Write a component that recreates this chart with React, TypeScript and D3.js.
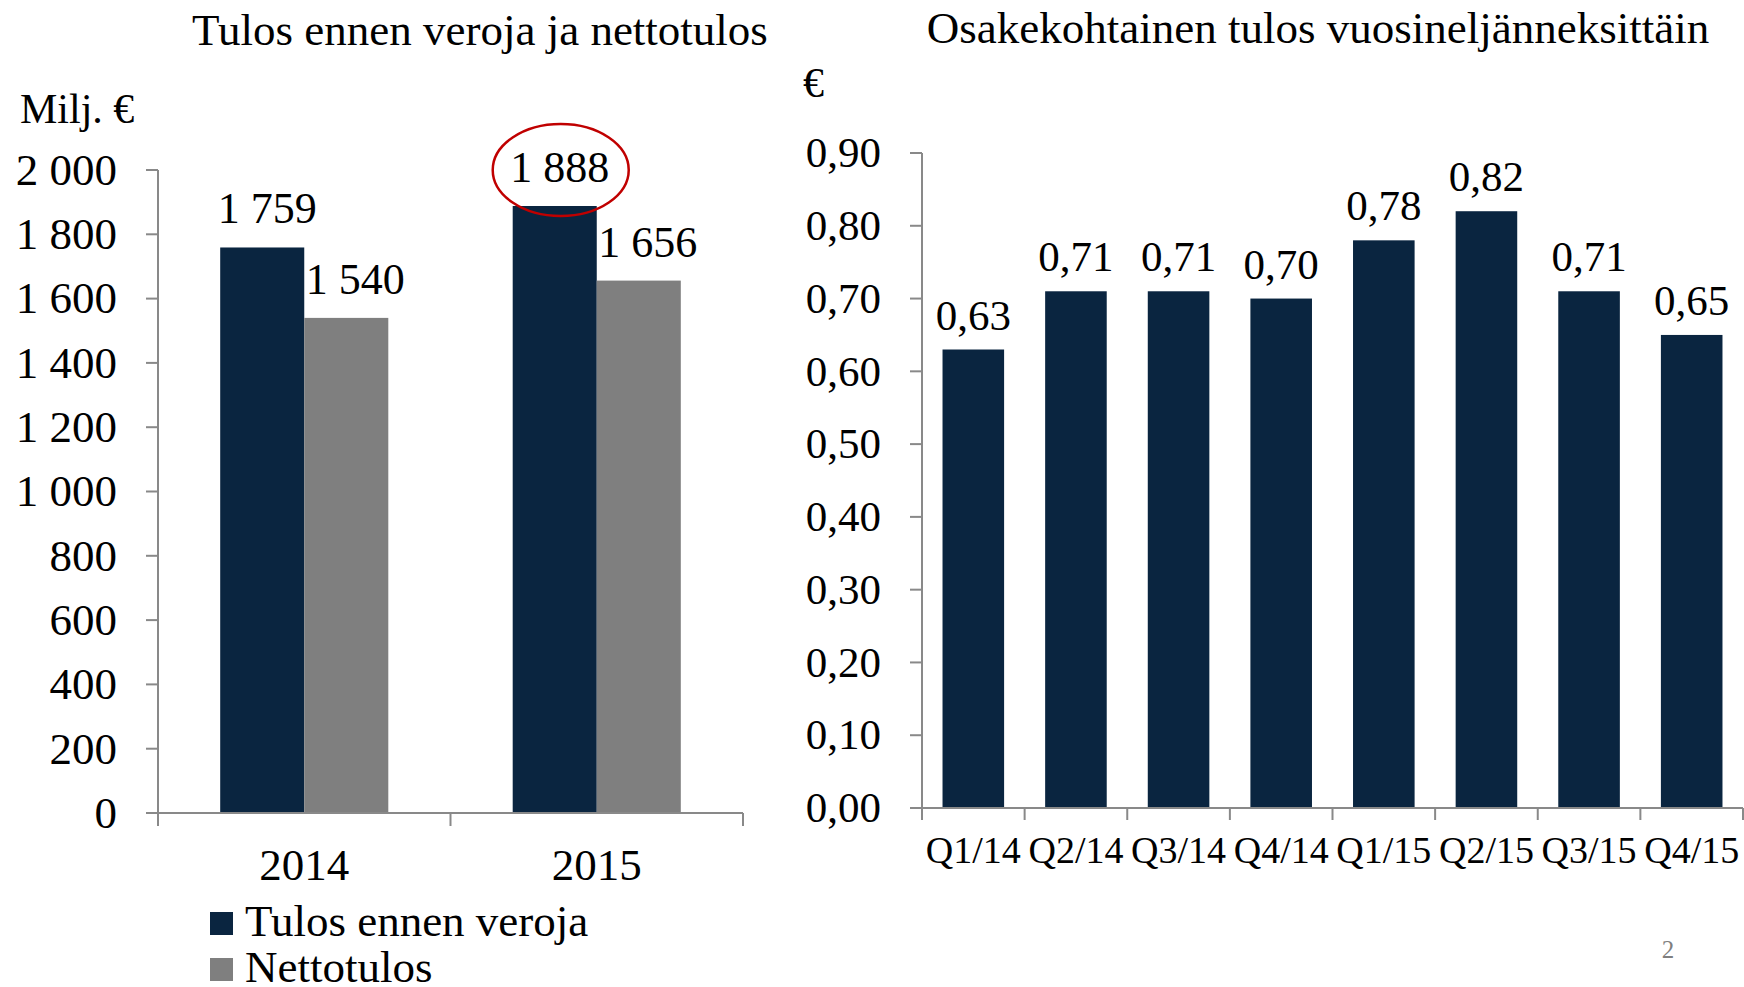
import React, { useEffect, useRef } from "react";
import * as d3 from "d3";

// left chart: profit before taxes vs net profit (M€)
const years = ["2014", "2015"];
const seriesNames = ["Tulos ennen veroja", "Nettotulos"];
const pretaxProfit = [1759, 1888];
const netProfit = [1540, 1656];
const leftTicks = [0, 200, 400, 600, 800, 1000, 1200, 1400, 1600, 1800, 2000];

// right chart: earnings per share by quarter (€)
const quarters = ["Q1/14", "Q2/14", "Q3/14", "Q4/14", "Q1/15", "Q2/15", "Q3/15", "Q4/15"];
const eps = [0.63, 0.71, 0.71, 0.7, 0.78, 0.82, 0.71, 0.65];
const rightTicks = [0, 0.1, 0.2, 0.3, 0.4, 0.5, 0.6, 0.7, 0.8, 0.9];

const NAVY = "#0a2540";
const GREY = "#7f7f7f";
const AXIS = "#898989";
const FONT = "'Liberation Serif', 'Times New Roman', serif";

const fi = d3.formatLocale({ decimal: ",", thousands: " ", grouping: [3], currency: ["", "€"] });
const fmtInt = fi.format(",d");
const fmtEps = fi.format(".2f");

export default function App() {
  const ref = useRef<SVGSVGElement>(null);

  useEffect(() => {
    const svg = d3.select(ref.current);
    svg.selectAll("*").remove();
    svg.style("font-family", FONT);

    // ---------- left chart ----------
    const g = svg.append("g");
    const x0 = d3.scaleBand().domain(years).range([158, 743]);
    const x1 = d3.scaleBand().domain(seriesNames).range([0, x0.bandwidth()]).paddingOuter(0.74);
    const y = d3.scaleLinear().domain([0, 2000]).range([813, 170]);
    const colors = [NAVY, GREY];
    const rows = years.map((yr, i) => ({ year: yr, vals: [pretaxProfit[i], netProfit[i]] }));

    g.append("text").attr("x", 480).attr("y", 45).attr("text-anchor", "middle")
      .attr("font-size", 45).text("Tulos ennen veroja ja nettotulos");
    g.append("text").attr("x", 20).attr("y", 123).attr("font-size", 42).text("Milj. €");

    // y axis
    g.append("line").attr("x1", 158).attr("x2", 158).attr("y1", y(2000)).attr("y2", y(0))
      .attr("stroke", AXIS).attr("stroke-width", 2);
    const yt = g.selectAll(".yt").data(leftTicks).join("g").attr("class", "yt")
      .attr("transform", d => `translate(0,${y(d)})`);
    yt.append("line").attr("x1", 146).attr("x2", 158).attr("stroke", AXIS).attr("stroke-width", 2);
    yt.append("text").attr("x", 117).attr("dy", "0.33em").attr("text-anchor", "end")
      .attr("font-size", 45).text(d => fmtInt(d));

    // bars
    const grp = g.selectAll(".grp").data(rows).join("g").attr("class", "grp")
      .attr("transform", d => `translate(${x0(d.year)},0)`);
    grp.selectAll("rect").data(d => d.vals).join("rect")
      .attr("x", (d, i) => x1(seriesNames[i])!)
      .attr("width", x1.bandwidth())
      .attr("y", d => y(d))
      .attr("height", d => y(0) - y(d))
      .attr("fill", (d, i) => colors[i]);
    grp.selectAll("text").data(d => d.vals).join("text")
      .attr("x", (d, i) => x1(seriesNames[i])! + x1.bandwidth() / 2 + 5 + i * 4)
      .attr("y", d => y(d) - 24)
      .attr("text-anchor", "middle").attr("font-size", 44)
      .text(d => fmtInt(d));

    // highlight circle around 2015 pretax value
    g.append("ellipse")
      .attr("cx", x0("2015")! + x1(seriesNames[0])! + x1.bandwidth() / 2 + 6)
      .attr("cy", y(pretaxProfit[1]) - 36)
      .attr("rx", 68).attr("ry", 46)
      .attr("fill", "none").attr("stroke", "#c00000").attr("stroke-width", 2.5);

    // x axis
    g.append("line").attr("x1", 158).attr("x2", 743).attr("y1", y(0)).attr("y2", y(0))
      .attr("stroke", AXIS).attr("stroke-width", 2);
    const bounds = [...years.map(d => x0(d)!), x0.range()[1]];
    g.selectAll(".xt").data(bounds).join("line").attr("class", "xt")
      .attr("x1", d => d).attr("x2", d => d).attr("y1", y(0)).attr("y2", y(0) + 13)
      .attr("stroke", AXIS).attr("stroke-width", 2);
    g.selectAll(".xl").data(years).join("text").attr("class", "xl")
      .attr("x", d => x0(d)! + x0.bandwidth() / 2).attr("y", 880)
      .attr("text-anchor", "middle").attr("font-size", 45).text(d => d);

    // legend
    const lg = g.selectAll(".lg").data(seriesNames).join("g").attr("class", "lg")
      .attr("transform", (d, i) => `translate(210,${912 + i * 46})`);
    lg.append("rect").attr("width", 23).attr("height", 23).attr("fill", (d, i) => colors[i]);
    lg.append("text").attr("x", 35).attr("y", 24).attr("font-size", 45).text(d => d);

    // ---------- right chart ----------
    const r = svg.append("g");
    const xq = d3.scaleBand().domain(quarters).range([922, 1743]).paddingInner(0.4).paddingOuter(0.2);
    const ye = d3.scaleLinear().domain([0, 0.9]).range([808, 153]);

    r.append("text").attr("x", 1318).attr("y", 43).attr("text-anchor", "middle")
      .attr("font-size", 45).text("Osakekohtainen tulos vuosineljänneksittäin");
    r.append("text").attr("x", 803).attr("y", 97).attr("font-size", 42).text("€");

    r.append("line").attr("x1", 922).attr("x2", 922).attr("y1", ye(0.9)).attr("y2", ye(0))
      .attr("stroke", AXIS).attr("stroke-width", 2);
    const rt = r.selectAll(".rt").data(rightTicks).join("g").attr("class", "rt")
      .attr("transform", d => `translate(0,${ye(d)})`);
    rt.append("line").attr("x1", 910).attr("x2", 922).attr("stroke", AXIS).attr("stroke-width", 2);
    rt.append("text").attr("x", 881).attr("dy", "0.33em").attr("text-anchor", "end")
      .attr("font-size", 43).text(d => fmtEps(d));

    r.selectAll(".bar").data(eps).join("rect").attr("class", "bar")
      .attr("x", (d, i) => xq(quarters[i])!)
      .attr("width", xq.bandwidth())
      .attr("y", d => ye(d))
      .attr("height", d => ye(0) - ye(d))
      .attr("fill", NAVY);
    r.selectAll(".val").data(eps).join("text").attr("class", "val")
      .attr("x", (d, i) => xq(quarters[i])! + xq.bandwidth() / 2)
      .attr("y", d => ye(d) - 20)
      .attr("text-anchor", "middle").attr("font-size", 43)
      .text(d => fmtEps(d));

    r.append("line").attr("x1", 922).attr("x2", 1743).attr("y1", ye(0)).attr("y2", ye(0))
      .attr("stroke", AXIS).attr("stroke-width", 2);
    const step = xq.step();
    const qb = d3.range(quarters.length + 1).map(i => 922 + i * step);
    r.selectAll(".qt").data(qb).join("line").attr("class", "qt")
      .attr("x1", d => d).attr("x2", d => d).attr("y1", ye(0)).attr("y2", ye(0) + 12)
      .attr("stroke", AXIS).attr("stroke-width", 2);
    r.selectAll(".ql").data(quarters).join("text").attr("class", "ql")
      .attr("x", d => xq(d)! + xq.bandwidth() / 2).attr("y", 863)
      .attr("text-anchor", "middle").attr("font-size", 38).text(d => d);

    // page number
    svg.append("text").attr("x", 1668).attr("y", 958).attr("text-anchor", "middle")
      .attr("font-size", 25).attr("fill", GREY).text("2");
  }, []);

  return (
    <svg ref={ref} width={1744} height={987}
      style={{ position: "absolute", left: 0, top: 0, background: "#fff" }} />
  );
}
